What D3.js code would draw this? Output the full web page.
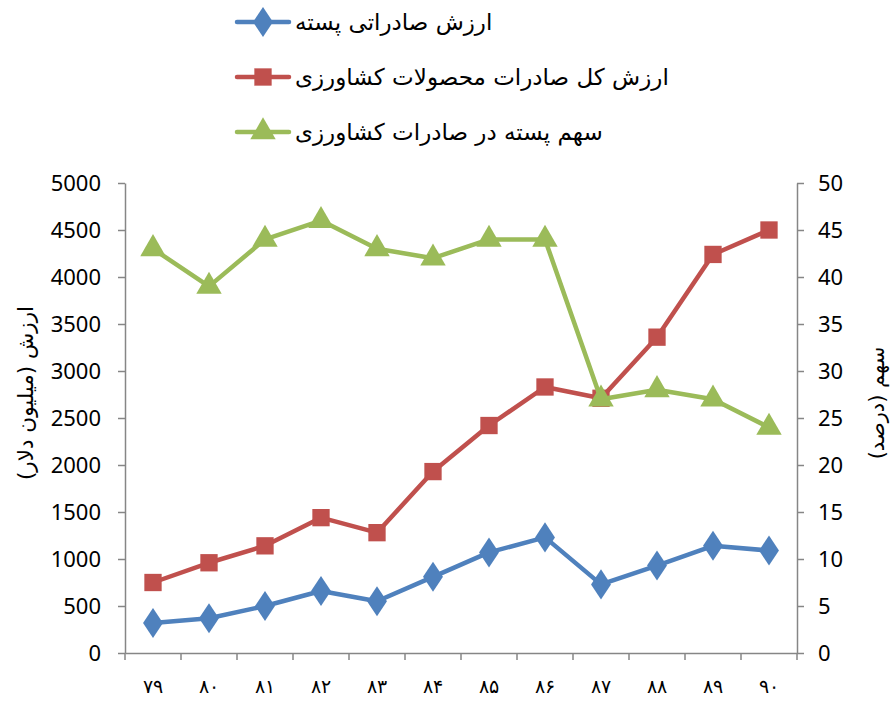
<!DOCTYPE html>
<html>
<head>
<meta charset="utf-8">
<script src="https://cdn.jsdelivr.net/npm/d3@7"></script>
<style>
  body { margin: 0; background: #fff; }
  svg { display: block; }
</style>
</head>
<body>
<div id="chart"></div>
<script>
// years (Persian digits) on the x axis
const years = ["۷۹", "۸۰", "۸۱", "۸۲", "۸۳", "۸۴", "۸۵", "۸۶", "۸۷", "۸۸", "۸۹", "۹۰"];

// million dollars (left axis)
const pistachioExports = [320, 370, 500, 660, 550, 810, 1070, 1230, 730, 930, 1140, 1090];
const agriExports = [750, 960, 1140, 1440, 1280, 1930, 2420, 2830, 2710, 3360, 4240, 4500];
// percent (right axis)
const pistachioShare = [43, 39, 44, 46, 43, 42, 44, 44, 27, 28, 27, 24];

const seriesNames = ["ارزش صادراتی پسته", "ارزش کل صادرات محصولات کشاورزی", "سهم پسته در صادرات کشاورزی"];
const leftTicks = [0, 500, 1000, 1500, 2000, 2500, 3000, 3500, 4000, 4500, 5000];
const rightTicks = [0, 5, 10, 15, 20, 25, 30, 35, 40, 45, 50];

const width = 891, height = 702;
const plotL = 125, plotR = 797, plotT = 183, plotB = 653;

const svg = d3.select("#chart").append("svg")
    .attr("width", width)
    .attr("height", height);

const x = d3.scaleBand().domain(years).range([plotL, plotR]);
const yLeft = d3.scaleLinear().domain([0, 5000]).range([plotB, plotT]);
const yRight = d3.scaleLinear().domain([0, 50]).range([plotB, plotT]);

const axisColor = "#868686";
const tickFont = "'Noto Sans', sans-serif";
const arFont = "'DejaVu Sans', sans-serif";

// left axis
const gL = svg.append("g").attr("transform", `translate(${plotL},0)`)
    .call(d3.axisLeft(yLeft).tickValues(leftTicks).tickFormat(d3.format("d"))
      .tickSize(7).tickPadding(17).tickSizeOuter(0));
// right axis
const gR = svg.append("g").attr("transform", `translate(${plotR},0)`)
    .call(d3.axisRight(yRight).tickValues(rightTicks).tickSize(7).tickPadding(14).tickSizeOuter(0));
// x axis: ticks on category boundaries
const gX = svg.append("g").attr("transform", `translate(0,${plotB})`)
    .call(d3.axisBottom(x).tickSize(0).tickPadding(27));
gX.selectAll(".bound").data(years.concat(["end"])).enter().append("line")
    .attr("class", "bound")
    .attr("x1", (d, i) => plotL + i * x.step())
    .attr("x2", (d, i) => plotL + i * x.step())
    .attr("y1", 0).attr("y2", 7);

[gL, gR, gX].forEach(g => {
  g.selectAll("path, line").attr("stroke", axisColor).attr("stroke-width", 1.5);
  g.selectAll("text").attr("fill", "#000").style("font-size", "22px").style("font-family", tickFont);
});
gX.selectAll("text").style("font-family", arFont).style("font-size", "19px").style("font-weight", "300");

// axis titles
svg.append("text")
    .attr("transform", "translate(33,393) rotate(-90)")
    .attr("text-anchor", "middle")
    .style("font-family", arFont).style("font-size", "21.5px")
    .attr("direction", "rtl")
    .text("ارزش (میلیون دلار)");
svg.append("text")
    .attr("transform", "translate(884,403) rotate(-90)")
    .attr("text-anchor", "middle")
    .style("font-family", arFont).style("font-size", "21px")
    .attr("direction", "rtl")
    .text("سهم (درصد)");

const colors = ["#4F81BD", "#C0504D", "#9BBB59"];
const symbols = [d3.symbolDiamond, d3.symbolSquare, d3.symbolTriangle];
const symSizes = [260, 300, 280];

const series = [
  { values: pistachioExports, y: yLeft },
  { values: agriExports, y: yLeft },
  { values: pistachioShare, y: yRight }
];

const cx = d => x(d) + x.bandwidth() / 2;

series.forEach((s, k) => {
  const pts = years.map((yr, i) => [cx(yr), s.y(s.values[i])]);
  svg.append("path")
      .attr("d", d3.line()(pts))
      .attr("fill", "none")
      .attr("stroke", colors[k])
      .attr("stroke-width", 4.5)
      .attr("stroke-linejoin", "round");
  svg.selectAll(".m" + k).data(pts).enter().append("path")
      .attr("class", "m" + k)
      .attr("transform", d => `translate(${d[0]},${d[1]})` + (k === 0 ? " scale(1.15,1)" : ""))
      .attr("d", d3.symbol().type(symbols[k]).size(symSizes[k]))
      .attr("fill", colors[k]);
});

// legend
const legendY = [22, 77, 132];
seriesNames.forEach((name, k) => {
  const g = svg.append("g").attr("transform", `translate(0,${legendY[k]})`);
  g.append("line").attr("x1", 237).attr("x2", 289).attr("y1", 0).attr("y2", 0)
      .attr("stroke", colors[k]).attr("stroke-width", 4.5).attr("stroke-linecap", "round");
  g.append("path")
      .attr("transform", "translate(263,0)" + (k === 0 ? " scale(1.15,1)" : ""))
      .attr("d", d3.symbol().type(symbols[k]).size(symSizes[k]))
      .attr("fill", colors[k]);
  g.append("text")
      .attr("x", 295).attr("y", 8)
      .attr("direction", "rtl")
      .attr("text-anchor", "end")
      .style("font-family", arFont).style("font-size", "23px")
      .text(name);
});
</script>
</body>
</html>
